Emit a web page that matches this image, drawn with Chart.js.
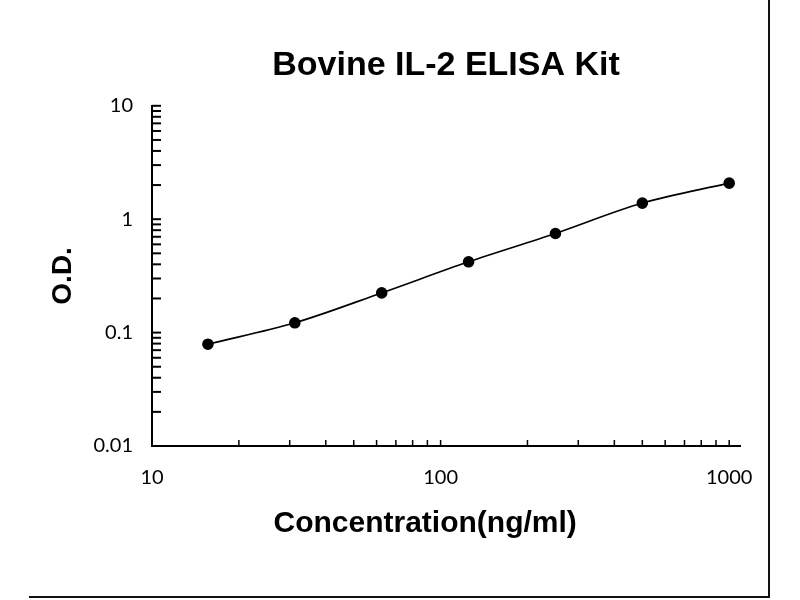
<!DOCTYPE html>
<html lang="en">
<head>
  <meta charset="UTF-8">
  <title>Bovine IL-2 ELISA Kit</title>
  <style>
    body {
      margin: 0;
      background: #fff;
      overflow: hidden;
    }
    #wrap {
      position: relative;
      width: 800px;
      height: 600px;
    }
    #frame {
      position: absolute;
      left: 29px;
      top: 0;
      width: 739px;
      height: 596px;
      border-right: 2px solid #111;
      border-bottom: 2px solid #111;
      pointer-events: none;
    }
  </style>
</head>
<body>

<div id="wrap">
  <canvas id="curveChart"></canvas>
  <div id="frame"></div>
</div>

<script src="https://cdn.jsdelivr.net/npm/chart.js"></script>
<script>
  // standard curve readings
  const concentrations = [15.625, 31.25, 62.5, 125, 250, 500, 1000];
  const odValues = [0.079, 0.122, 0.224, 0.421, 0.748, 1.387, 2.08];

  // labelled ticks
  const xTickLabels = [10, 100, 1000];
  const yTickLabels = [0.01, 0.1, 1, 10];

  const titleText = 'Bovine IL-2 ELISA Kit';
  const xTitle = 'Concentration(ng/ml)';
  const yTitle = 'O.D.';

  // 1..9 ticks in every decade, up to max
  function decadeTicks(fromExp, toExp, max) {
    const ticks = [];
    for (let e = fromExp; e <= toExp; e++) {
      for (let k = 1; k <= 9; k++) {
        const v = parseFloat((k * Math.pow(10, e)).toPrecision(6));
        if (v <= max * (1 + 1e-9)) ticks.push({ value: v });
      }
    }
    return ticks;
  }

  function labelFor(list) {
    return value => {
      const hit = list.find(v => Math.abs(v - value) / v < 1e-6);
      return hit === undefined ? '' : String(hit);
    };
  }

  // small tick marks pointing into the plot
  const innerTicks = {
    id: 'innerTicks',
    beforeDatasetsDraw(chart) {
      const { ctx, chartArea, scales: { x, y } } = chart;
      ctx.save();
      ctx.strokeStyle = '#000';
      ctx.lineWidth = 1.5;
      x.ticks.forEach(t => {
        const px = x.getPixelForValue(t.value);
        ctx.beginPath();
        ctx.moveTo(px, chartArea.bottom);
        ctx.lineTo(px, chartArea.bottom - 6);
        ctx.stroke();
      });
      ctx.lineWidth = 2;
      y.ticks.forEach(t => {
        const py = y.getPixelForValue(t.value);
        ctx.beginPath();
        ctx.moveTo(chartArea.left, py);
        ctx.lineTo(chartArea.left + 9, py);
        ctx.stroke();
      });
      ctx.restore();
    }
  };

  const boldFont = "'Liberation Sans', Arial, sans-serif";
  const tickFont = { family: "Lato, 'Open Sans', sans-serif", size: 20 };

  Chart.defaults.color = '#000';

  const ctx = document.getElementById('curveChart').getContext('2d');
  const curveChart = new Chart(ctx, {
    type: 'scatter',
    data: {
      datasets: [{
        label: 'O.D.',
        data: concentrations.map((c, i) => ({ x: c, y: odValues[i] })),
        showLine: true,
        cubicInterpolationMode: 'monotone',
        borderColor: '#000',
        borderWidth: 1.6,
        backgroundColor: '#000',
        pointBackgroundColor: '#000',
        pointBorderColor: '#000',
        pointRadius: 5,
        pointHoverRadius: 5
      }]
    },
    plugins: [innerTicks],
    options: {
      responsive: true,
      maintainAspectRatio: false,
      animation: false,
      layout: {
        padding: { left: 30, right: 60, top: 0, bottom: 0 }
      },
      plugins: {
        legend: { display: false },
        tooltip: { enabled: false },
        title: {
          display: true,
          text: titleText,
          position: 'top',
          fullSize: false,
          font: { family: boldFont, size: 34, weight: 'bold' },
          padding: { top: 45, bottom: 20 }
        }
      },
      scales: {
        x: {
          type: 'logarithmic',
          min: 10,
          max: 1090,
          grid: { display: false, drawTicks: false },
          border: { display: true, color: '#000', width: 2 },
          afterBuildTicks: scale => { scale.ticks = decadeTicks(1, 3, 1090); },
          afterFit: scale => { scale.height = 154; },
          ticks: {
            autoSkip: false,
            maxRotation: 0,
            padding: 20,
            font: tickFont,
            callback: labelFor(xTickLabels)
          },
          title: {
            display: true,
            text: xTitle + '\u00a0\u00a0\u00a0\u00a0\u00a0',
            font: { family: boldFont, size: 30, weight: 'bold' },
            padding: { top: 0, bottom: 58 }
          }
        },
        y: {
          type: 'logarithmic',
          min: 0.01,
          max: 10,
          grid: { display: false, drawTicks: false },
          border: { display: true, color: '#000', width: 2 },
          afterBuildTicks: scale => { scale.ticks = decadeTicks(-2, 1, 10); },
          afterFit: scale => { scale.width = 122; },
          ticks: {
            autoSkip: false,
            padding: 19,
            font: tickFont,
            callback: labelFor(yTickLabels)
          },
          title: {
            display: true,
            text: yTitle,
            font: { family: boldFont, size: 28, weight: 'bold' },
            padding: { top: 16, bottom: 0 }
          }
        }
      }
    }
  });
</script>

</body>
</html>
